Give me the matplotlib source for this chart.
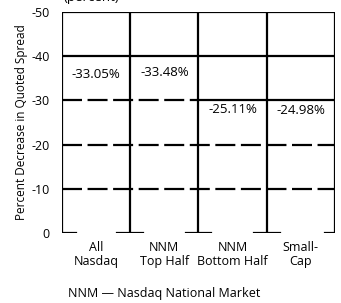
import matplotlib
matplotlib.use('Agg')
import matplotlib.pyplot as plt

categories = ['All\nNasdaq', 'NNM\nTop Half', 'NNM\nBottom Half', 'Small-\nCap']
values = [-33.05, -33.48, -25.11, -24.98]
yticks = [0, -10, -20, -30, -40, -50]

plt.rcParams['font.family'] = ['Open Sans', 'DejaVu Sans']

fig = plt.figure(figsize=(3.41, 3.03), dpi=100)
ax = fig.add_axes([0.182, 0.231, 0.8, 0.729])
n = len(categories)
ax.set_xlim(0, n)
ax.set_ylim(0, -50)

# vertical boundaries
for i in range(n + 1):
    ax.plot([i, i], [0, -50], color='black', lw=1.6)
# bottom T-bars
for i in range(1, n):
    ax.plot([i - 0.19, i + 0.19], [0, 0], color='black', lw=1.6)
ax.plot([0, 0.2], [0, 0], color='black', lw=1.6)
ax.plot([n - 0.15, n], [0, 0], color='black', lw=1.6)

# horizontal lines
ax.plot([0, n], [-50, -50], color='black', lw=1.6)
ax.plot([0, n], [-40, -40], color='black', lw=1.6)
for v in [-10, -20]:
    ax.plot([0, n], [v, v], color='black', lw=1.6, dashes=(9, 2.5))
ax.plot([0, 2], [-30, -30], color='black', lw=1.6, dashes=(9, 2.5))
ax.plot([2, n], [-30, -30], color='black', lw=1.6)

for i, v in enumerate(values):
    ax.text(i + 0.5, v - 2.8, f'{v:.2f}%', ha='center', va='center', fontsize=9.5)

for s in ax.spines.values():
    s.set_visible(False)
ax.set_xticks([i + 0.5 for i in range(n)])
ax.set_xticklabels(categories, fontsize=9, linespacing=1.05)
ax.set_yticks(yticks)
ax.set_yticklabels([str(t) for t in yticks], fontsize=9)
ax.tick_params(axis='y', length=0, pad=9)
ax.tick_params(axis='x', length=0, pad=6)
ax.set_ylabel('Percent Decrease in Quoted Spread', fontsize=8.5, labelpad=2)

fig.text(0.267, 1.008, '(percent)', ha='center', va='center', fontsize=9.5)
fig.text(0.2, 0.03, 'NNM \u2014 Nasdaq National Market', ha='left', va='center', fontsize=9)

fig.savefig('out.png', dpi=100)
